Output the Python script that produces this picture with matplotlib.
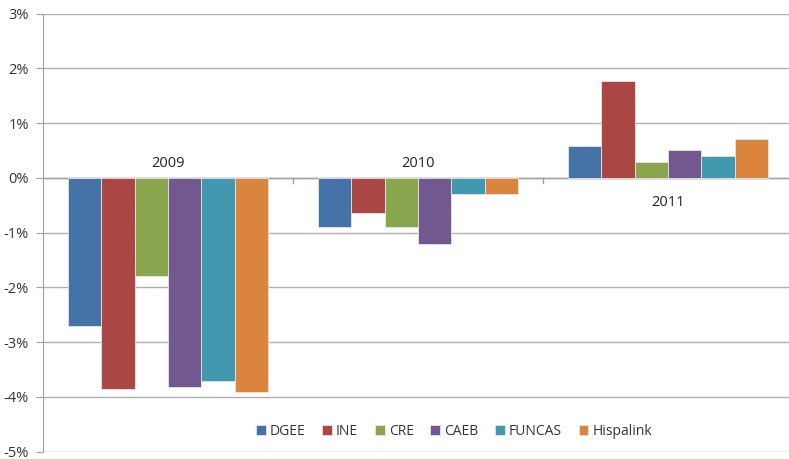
import numpy as np
import matplotlib.pyplot as plt
from matplotlib.ticker import FuncFormatter

years = ['2009', '2010', '2011']
sources = ['DGEE', 'INE', 'CRE', 'CAEB', 'FUNCAS', 'Hispalink']
colors = ['#4572A7', '#AA4643', '#89A54E', '#71588F', '#4198AF', '#DB843D']

dgee = [-2.7, -0.9, 0.59]
ine = [-3.86, -0.65, 1.77]
cre = [-1.8, -0.9, 0.29]
caeb = [-3.82, -1.21, 0.51]
funcas = [-3.71, -0.3, 0.4]
hispalink = [-3.91, -0.3, 0.7]

series = [dgee, ine, cre, caeb, funcas, hispalink]

plt.rcParams['font.family'] = ['Open Sans', 'DejaVu Sans']

fig = plt.figure(figsize=(7.89, 4.59), dpi=100)
ax = fig.add_axes([43 / 789, 1 - 451.7 / 459, (793 - 43) / 789, (451.7 - 13.5) / 459])

x = np.arange(len(years))
w = 0.8 / len(series)
for i, (vals, name, c) in enumerate(zip(series, sources, colors)):
    ax.bar(x - 0.4 + w * (i + 0.5), vals, width=w, color=c, label=name,
           edgecolor='#e6e6e6', linewidth=0.6, zorder=3)

ax.set_xlim(-0.5, 2.5)
ax.set_ylim(-5, 3)
ax.set_yticks(range(-5, 4))
ax.yaxis.set_major_formatter(FuncFormatter(lambda v, p: f'{int(v)}%'))
ax.tick_params(axis='y', length=5, color='#a0a0a0', labelsize=10.5,
               labelcolor='#333333', pad=5)
ax.grid(axis='y', color='#b0b0b0', linewidth=1, zorder=0)
ax.set_xticks([])

# zero line with boundary ticks
ax.axhline(0, color='#a0a0a0', linewidth=1, zorder=2)
for b in [0.5, 1.5]:
    ax.plot([b, b], [0, -0.09], color='#a0a0a0', linewidth=1, zorder=2)

for s in ['top', 'right', 'bottom']:
    ax.spines[s].set_visible(False)
ax.spines['left'].set_color('#a0a0a0')

# category labels on the zero line
for xi, yr in zip(x, years):
    y = -0.45 if yr == '2011' else 0.12
    ax.text(xi, y, yr, ha='center', va='bottom' if yr != '2011' else 'center',
            fontsize=10.5, color='#222222')

ax.legend(loc='lower center', bbox_to_anchor=(0.548, 0.0), ncol=6, frameon=False,
          fontsize=10, handlelength=0.7, handleheight=0.7, handletextpad=0.3,
          columnspacing=1.2, labelcolor='#333333')

fig.savefig('out.png', dpi=100)
